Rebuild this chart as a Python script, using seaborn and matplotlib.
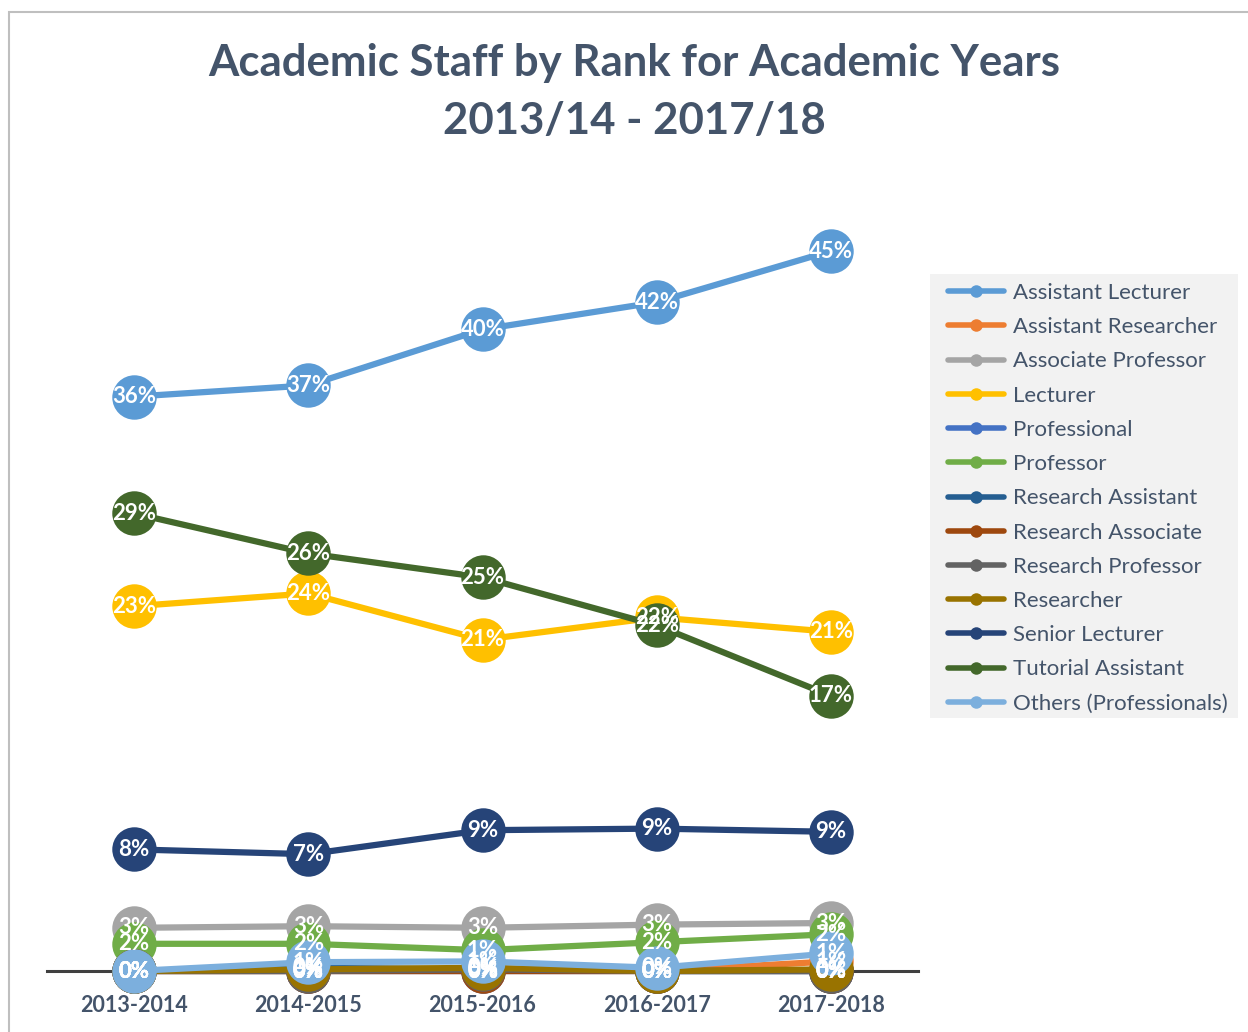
import matplotlib
matplotlib.use("Agg")
import matplotlib.pyplot as plt
from matplotlib.lines import Line2D
from matplotlib.patches import Rectangle
import pandas as pd
import seaborn as sns

# Datos (porcentaje del personal académico por rango)
years = ["2013-2014", "2014-2015", "2015-2016", "2016-2017", "2017-2018"]
ranks = ["Assistant Lecturer", "Assistant Researcher", "Associate Professor",
         "Lecturer", "Professional", "Professor", "Research Assistant",
         "Research Associate", "Research Professor", "Researcher",
         "Senior Lecturer", "Tutorial Assistant", "Others (Professionals)"]

assistant_lecturer = [35.9, 36.6, 40.1, 41.8, 45.0]
assistant_researcher = [0.0, 0.0, 0.0, 0.0, 0.6]
associate_professor = [2.7, 2.8, 2.7, 2.9, 3.0]
lecturer = [22.8, 23.6, 20.7, 22.1, 21.2]
professional = [0.0, 0.0, 0.0, 0.0, 0.0]
professor = [1.7, 1.7, 1.3, 1.8, 2.3]
research_assistant = [0.0, 0.2, 0.1, 0.0, 0.0]
research_associate = [0.0, 0.0, 0.0, 0.0, 0.0]
research_professor = [0.0, 0.0, 0.1, 0.0, 0.0]
researcher = [0.0, 0.1, 0.2, 0.0, 0.1]
senior_lecturer = [7.6, 7.3, 8.8, 8.9, 8.7]
tutorial_assistant = [28.6, 26.1, 24.6, 21.6, 17.2]
others = [0.0, 0.55, 0.6, 0.2, 1.1]

colors = ["#5B9BD5", "#ED7D31", "#A5A5A5", "#FFC000", "#4472C4", "#70AD47",
          "#255E91", "#9E480E", "#636363", "#997300", "#264478", "#43682B",
          "#7CAFDD"]

series = [assistant_lecturer, assistant_researcher, associate_professor,
          lecturer, professional, professor, research_assistant,
          research_associate, research_professor, researcher,
          senior_lecturer, tutorial_assistant, others]

rows = []
for rank, vals in zip(ranks, series):
    for yr, v in zip(years, vals):
        rows.append({"year": yr, "rank": rank, "share": v})
df = pd.DataFrame(rows)

sns.set_style("white")
plt.rcParams["font.family"] = ["Lato", "DejaVu Sans"]
text_color = "#44546A"

fig = plt.figure(figsize=(12.48, 10.32), dpi=100)
ax = fig.add_axes([47 / 1248, 1 - 971 / 1032, 871 / 1248, 752 / 1032])

sns.lineplot(data=df, x="year", y="share", hue="rank", hue_order=ranks,
             palette=colors, marker="o", markersize=32, markeredgewidth=0,
             linewidth=4.5, sort=False, legend=False, ax=ax)
for ln in ax.lines:
    ln.set_clip_on(False)

# Etiquetas de datos
for i, row in df.iterrows():
    ax.text(years.index(row["year"]), row["share"], f"{row['share']:.0f}%",
            ha="center", va="center", color="white", fontsize=16,
            fontweight="bold", zorder=10, clip_on=False)

ax.set_xlim(-0.5, 4.5)
ax.set_ylim(0, 47)
ax.set_yticks([])
ax.set_xlabel("")
ax.set_ylabel("")
for s in ["top", "right", "left"]:
    ax.spines[s].set_visible(False)
ax.spines["bottom"].set_color("#404040")
ax.spines["bottom"].set_linewidth(2.2)
ax.spines["bottom"].set_zorder(0.5)
ax.tick_params(axis="x", length=0, pad=17, labelsize=15.5, labelcolor=text_color)
for lbl in ax.get_xticklabels():
    lbl.set_fontweight("bold")

# Título
fig.text(634 / 1248, 1 - 63 / 1032, "Academic Staff by Rank for Academic Years",
         ha="center", va="center", fontsize=31.5, fontweight="bold", color=text_color)
fig.text(634 / 1248, 1 - 121 / 1032, "2013/14 - 2017/18",
         ha="center", va="center", fontsize=31.5, fontweight="bold", color=text_color)

# Leyenda con fondo gris claro
fig.patches.append(Rectangle((930 / 1248, 1 - 718 / 1032), 308 / 1248, 444 / 1032,
                             transform=fig.transFigure, facecolor="#F2F2F2",
                             edgecolor="none", zorder=0))
handles = [Line2D([0], [0], color=c, lw=4, marker="o", markersize=9,
                  markeredgewidth=0) for c in colors]
leg = fig.legend(handles, ranks, loc="upper left",
                 bbox_to_anchor=(948 / 1248, 1 - 283 / 1032),
                 frameon=False, fontsize=16, labelspacing=0.64,
                 handlelength=2.52, handletextpad=0.4, borderpad=0,
                 borderaxespad=0)
for t in leg.get_texts():
    t.set_color(text_color)

# Borde del gráfico
fig.patches.append(Rectangle((9 / 1248, -0.1), 1.2, 1 - 12 / 1032 + 0.1,
                             transform=fig.transFigure, fill=False,
                             edgecolor="#BFBFBF", linewidth=1.5))

fig.savefig("out.png", dpi=100)
